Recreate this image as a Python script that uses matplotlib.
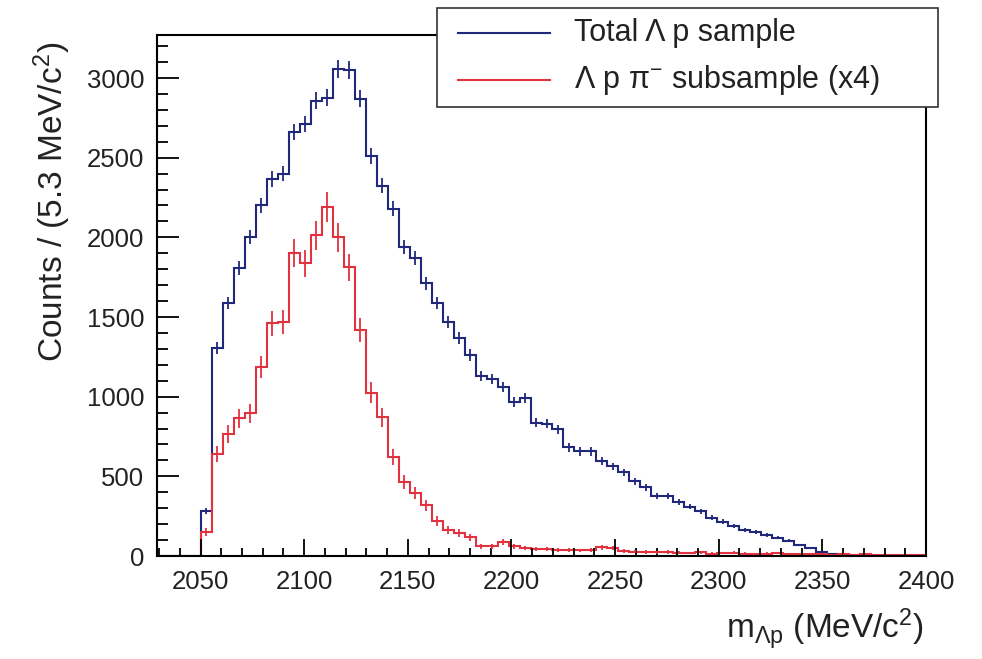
import numpy as np
import matplotlib
matplotlib.use('Agg')
import matplotlib.pyplot as plt
from matplotlib.patches import Rectangle
from matplotlib.lines import Line2D
from matplotlib.ticker import MultipleLocator

plt.rcParams['font.family'] = ['Liberation Sans', 'DejaVu Sans']
plt.rcParams['mathtext.default'] = 'regular'

# 70 bins of 5.3 MeV/c^2 between 2029 and 2400
edges = np.linspace(2029, 2400, 71)

total = [0, 0, 0, 0, 283, 1306, 1587, 1806, 2000, 2200,
         2366, 2400, 2662, 2712, 2856, 2875, 3056, 3050, 2869, 2512,
         2325, 2181, 1938, 1869, 1712, 1587, 1469, 1369, 1262, 1130,
         1110, 1062, 969, 994, 837, 831, 794, 681, 656, 656,
         594, 562, 525, 469, 431, 375, 375, 337, 310, 280,
         240, 215, 190, 165, 150, 130, 115, 95, 70, 50,
         25, 10, 5, 3, 2, 2, 1, 1, 0, 0]

sub_x4 = [0, 0, 0, 0, 150, 640, 765, 865, 895, 1187,
          1460, 1470, 1903, 1837, 2012, 2190, 2000, 1812, 1419, 1025,
          870, 619, 465, 395, 318, 219, 162, 143, 119, 62,
          62, 87, 62, 50, 45, 42, 38, 40, 35, 40,
          55, 50, 30, 28, 25, 22, 25, 20, 18, 22,
          15, 18, 20, 15, 12, 15, 18, 12, 10, 12,
          10, 8, 12, 8, 10, 6, 8, 5, 8, 5]

blue = '#20287c'
red = '#e2323f'

total = np.array(total, dtype=float)
sub_x4 = np.array(sub_x4, dtype=float)
centers = 0.5 * (edges[1:] + edges[:-1])

fig = plt.figure(figsize=(9.82, 6.59), dpi=100)
ax = fig.add_axes([157/982, 1-556/659, (926-157)/982, (556-35)/659])

ax.stairs(total, edges, color=blue, lw=1.5)
m = total > 0
ax.errorbar(centers[m], total[m], yerr=np.sqrt(total[m]), fmt='none',
            ecolor=blue, elinewidth=1.3)

ax.stairs(sub_x4, edges, color=red, lw=1.5)
m = sub_x4 > 0
ax.errorbar(centers[m], sub_x4[m], yerr=2*np.sqrt(sub_x4[m]), fmt='none',
            ecolor=red, elinewidth=1.3)

ax.set_xlim(2029, 2400)
ax.set_ylim(0, 3270)
ax.xaxis.set_major_locator(MultipleLocator(50))
ax.xaxis.set_minor_locator(MultipleLocator(10))
ax.yaxis.set_major_locator(MultipleLocator(500))
ax.yaxis.set_minor_locator(MultipleLocator(100))
ax.tick_params(which='both', direction='in', top=False, right=False,
               labelsize=18.5, width=1.3, labelcolor='#222222')
ax.tick_params(axis='x', which='major', length=12, pad=10)
ax.tick_params(axis='x', which='minor', length=6)
ax.tick_params(axis='y', which='major', length=16, pad=9)
ax.tick_params(axis='y', which='minor', length=8)
for s in ax.spines.values():
    s.set_linewidth(1.5)

fig.text(52/982, 1-42/659, 'Counts / (5.3 MeV/c$^{2}$)', rotation=90,
         ha='center', va='top', fontsize=24, color='#222222')
fig.text(924/982, 1-630/659, 'm$_{Λp}$ (MeV/c$^{2}$)', ha='right',
         va='center', fontsize=24, color='#222222')

# legend box
fig.patches.append(Rectangle((437/982, 1-107/659), (938-437)/982, 99/659,
                             transform=fig.transFigure, facecolor='white',
                             edgecolor='#333333', lw=1.2, zorder=5))
for yy, col, txt in [(33, blue, 'Total Λ p sample'),
                     (80, red, 'Λ p π$^{-}$ subsample (x4)')]:
    fig.lines.append(Line2D([458/982, 550/982], [1-yy/659, 1-yy/659],
                            transform=fig.transFigure, color=col, lw=1.5,
                            zorder=6))
    fig.text(574/982, 1-yy/659, txt, ha='left', va='center', fontsize=22,
             color='#222222', zorder=6)

fig.savefig('out.png', dpi=100)
